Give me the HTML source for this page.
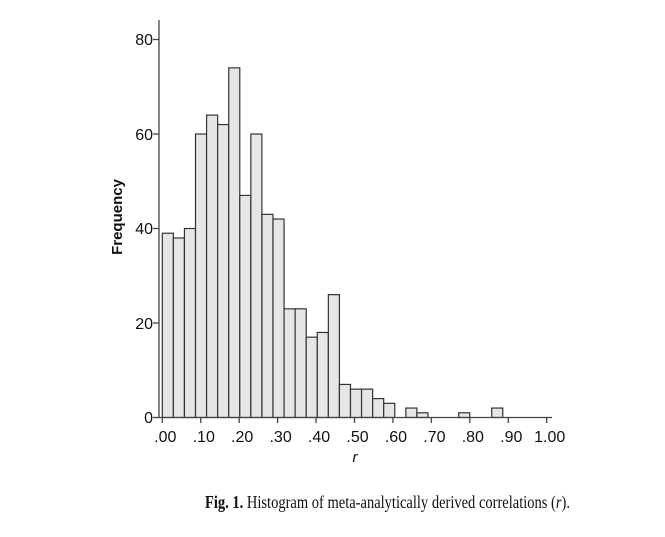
<!DOCTYPE html>
<html><head><meta charset="utf-8"><style>
html,body{margin:0;padding:0;background:#fff;}
svg{display:block;}
</style></head><body>
<svg width="665" height="537" xmlns="http://www.w3.org/2000/svg">
<g id="bars" fill="#e6e6e6" stroke="#333" stroke-width="1.2"></g>
<g stroke="#444" stroke-width="1.3" fill="none">
<line x1="159" y1="20" x2="159" y2="417.5"/>
<line x1="159" y1="417.5" x2="552" y2="417.5"/>
<line x1="153" y1="417.5" x2="159" y2="417.5"/>
<line x1="153" y1="323" x2="159" y2="323"/>
<line x1="153" y1="228.5" x2="159" y2="228.5"/>
<line x1="153" y1="134" x2="159" y2="134"/>
<line x1="153" y1="39.5" x2="159" y2="39.5"/>
</g>
<g id="xt" stroke="#444" stroke-width="1.3"></g>
<g font-family="Liberation Sans, sans-serif" font-size="16" fill="#111" text-anchor="end">
<text x="153" y="423">0</text>
<text x="153" y="329">20</text>
<text x="153" y="234">40</text>
<text x="153" y="140">60</text>
<text x="153" y="45">80</text>
</g>
<g id="xl" font-family="Liberation Sans, sans-serif" font-size="16" fill="#111" text-anchor="middle"></g>
<text x="355" y="462" font-family="Liberation Sans, sans-serif" font-size="15" font-style="italic" text-anchor="middle" fill="#111">r</text>
<text transform="translate(122,217) rotate(-90)" font-family="Liberation Sans, sans-serif" font-size="15" font-weight="bold" text-anchor="middle" fill="#111">Frequency</text>
<text x="205" y="508" textLength="365" lengthAdjust="spacingAndGlyphs" font-family="Liberation Serif, serif" font-size="17.5" fill="#111"><tspan font-weight="bold">Fig. 1.</tspan> Histogram of meta-analytically derived correlations (<tspan font-style="italic">r</tspan>).</text>
</svg>
<script>
var ns="http://www.w3.org/2000/svg";
var h=[39,38,40,60,64,62,74,47,60,43,42,23,23,17,18,26,7,6,6,4,3,0,2,1];
var g=document.getElementById("bars");
function bar(x,v){var r=document.createElementNS(ns,"rect");r.setAttribute("x",x);r.setAttribute("y",417.5-v*4.725);r.setAttribute("width",11.07);r.setAttribute("height",v*4.725);g.appendChild(r);}
for(var i=0;i<h.length;i++){if(h[i]>0)bar(162.3+i*11.07,h[i]);}
bar(458.7,1);bar(491.7,2);
var xt=document.getElementById("xt"),xl=document.getElementById("xl");
var labs=[".00",".10",".20",".30",".40",".50",".60",".70",".80",".90","1.00"];
for(var k=0;k<11;k++){var x=162.3+k*38.44;
var l=document.createElementNS(ns,"line");l.setAttribute("x1",x);l.setAttribute("x2",x);l.setAttribute("y1",417.5);l.setAttribute("y2",423);xt.appendChild(l);
var t=document.createElementNS(ns,"text");t.setAttribute("x",x+3);t.setAttribute("y",442);t.textContent=labs[k];xl.appendChild(t);}
</script>
</body></html>
